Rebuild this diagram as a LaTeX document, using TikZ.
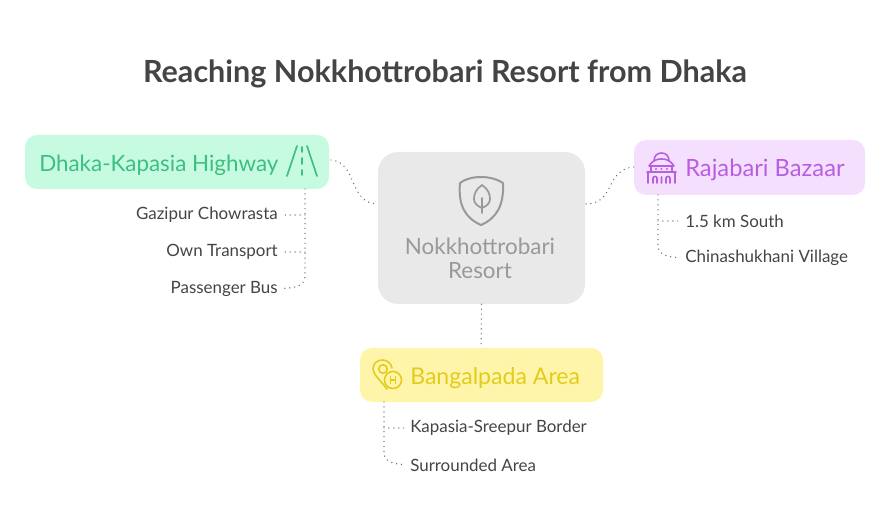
\documentclass[tikz,border=0pt]{standalone}
\usepackage{fontspec}
\setmainfont{Lato}
\definecolor{hwyfill}{HTML}{C6FBE2}
\definecolor{hwytext}{HTML}{3CBF80}
\definecolor{bazfill}{HTML}{F4E0FE}
\definecolor{baztext}{HTML}{B95EE0}
\definecolor{banfill}{HTML}{FEF5AA}
\definecolor{bantext}{HTML}{E3CC1C}
\definecolor{resfill}{HTML}{E9E9E9}
\definecolor{restext}{HTML}{999999}
\definecolor{inktext}{HTML}{444444}
\tikzset{
  topic/.style={draw=none, rectangle, rounded corners=9pt, inner sep=0pt},
  leaf/.style={inner sep=0pt, text=inktext, font=\fontsize{12.7}{15}\selectfont},
  dots/.style={draw=gray!85!black, line width=1.1pt, line cap=round, dash pattern=on 0pt off 3.7pt},
  glyph/.style={line width=1.2pt, line cap=round, line join=round}
}
\begin{document}
\begin{tikzpicture}[x=0.75pt, y=-0.75pt]
\useasboundingbox (0,0) rectangle (890,524);
\node[inner sep=0pt, text=inktext, font=\fontsize{22.9}{26}\bfseries\selectfont] (title) at (445,74) {Reaching Nokkhottrobari Resort from Dhaka};
% main boxes
\node[topic, fill=resfill, rounded corners=15pt, minimum width=155.25pt, minimum height=114pt] (resort) at (481.5,228) {};
\node[inner sep=0pt, align=center, text=restext, font=\fontsize{16.8}{18}\selectfont] (resortname) at (480,258) {Nokkhottrobari\\Resort};
\node[topic, fill=hwyfill, minimum width=228pt, minimum height=40.5pt] (hwy) at (177,162) {};
\node[inner sep=0pt, anchor=west, text=hwytext, font=\fontsize{16.8}{18}\selectfont] (hwyname) at (39,165) {Dhaka-Kapasia Highway};
\node[topic, fill=bazfill, minimum width=173.25pt, minimum height=41.25pt] (baz) at (749.5,167.5) {};
\node[inner sep=0pt, anchor=west, text=baztext, font=\fontsize{17.8}{18}\selectfont] (bazname) at (685,170) {Rajabari Bazaar};
\node[topic, fill=banfill, minimum width=182.25pt, minimum height=40.5pt] (ban) at (481.5,375) {};
\node[inner sep=0pt, anchor=west, text=bantext, font=\fontsize{17.3}{18}\selectfont] (banname) at (410,378) {Bangalpada Area};
% leaves
\node[leaf, anchor=east] (gaz) at (278,215) {Gazipur Chowrasta};
\node[leaf, anchor=east] (own) at (278,252) {Own Transport};
\node[leaf, anchor=east] (bus) at (278,288.5) {Passenger Bus};
\node[leaf, anchor=west] (south) at (685,221) {1.5 km South};
\node[leaf, anchor=west] (china) at (685,258) {Chinashukhani Village};
\node[leaf, anchor=west] (border) at (410,428) {Kapasia-Sreepur Border};
\node[leaf, anchor=west] (around) at (410,465) {Surrounded Area};
% connectors
\coordinate (hwyout) at (331,160);
\coordinate (hwydown) at (305,189);
\coordinate (bazdown) at (658,195);
\coordinate (bandown) at (384,402);
\coordinate (banin) at (481,345);
\draw[dots] (hwyout) .. controls (358,163) and (348,203) .. (resort.west |- 0,204);
\draw[dots] (baz.west |- 0,167) .. controls (604,170) and (616,204) .. (resort.east |- 0,204);
\draw[dots] (resort.south) -- (banin);
\draw[dots, shorten >=4pt] (hwydown) -- (305,276) .. controls (305,284) and (299,288) .. (bus.east);
\draw[dots, shorten >=4pt] (hwydown |- gaz.east) -- (gaz.east);
\draw[dots, shorten >=4pt] (hwydown |- own.east) -- (own.east);
\draw[dots, shorten >=4pt] (bazdown) -- (658,245) .. controls (658,253) and (664,257) .. (china.west);
\draw[dots, shorten >=4pt] (bazdown |- south.west) -- (south.west);
\draw[dots, shorten >=4pt] (bandown) -- (384,452) .. controls (384,460) and (390,464) .. (around.west);
\draw[dots, shorten >=4pt] (bandown |- border.west) -- (border.west);
% road icon
\draw[glyph, hwytext] (287,176) -- (297,146) (307,146) -- (317,176);
\draw[glyph, hwytext] (302,147) -- (302,152) (302,158) -- (302,164) (302,170) -- (302,175);
% shield icon
\draw[glyph, restext, line width=1.5pt] (481,177) .. controls (489,177) and (497,179) .. (503,183) .. controls (504,205) and (497,218) .. (481,225) .. controls (465,218) and (458,205) .. (460,183) .. controls (465,179) and (473,177) .. (481,177) -- cycle;
\draw[glyph, restext, line width=1.3pt] (482,185) .. controls (476,189) and (474,194) .. (474,199) .. controls (474,203) and (477,206) .. (482,208) .. controls (487,206) and (490,203) .. (490,199) .. controls (490,194) and (488,189) .. (482,185) -- cycle (482,198) -- (482,213);
% palace icon
\draw[glyph, baztext] (647,172) -- (676,172) (648,172) -- (648,183) (675,172) -- (675,183) (651,172) -- (651,166) (672,172) -- (672,166);
\draw[glyph, baztext] (649,166) .. controls (653,160) and (657,159) .. (661.5,159) .. controls (666,159) and (670,160) .. (674,166) -- cycle;
\draw[glyph, baztext] (654,161) .. controls (654,156) and (657,153) .. (661.5,153) .. controls (666,153) and (669,156) .. (669,161);
\draw[glyph, baztext] (653,183) -- (653,178) .. controls (653,176) and (657,176) .. (657,178) -- (657,183) (661.5,183) -- (661.5,177) (666,183) -- (666,178) .. controls (666,176) and (670,176) .. (670,178) -- (670,183);
\fill[baztext] (656,169) circle (0.9pt) (661.5,169) circle (0.9pt) (667,169) circle (0.9pt);
% pin icon
\draw[glyph, bantext] (387,389) .. controls (380,380) and (373,374) .. (373,369) .. controls (373,363) and (378,360) .. (382,360) .. controls (387,360) and (391,363) .. (392,368);
\draw[glyph, bantext] (383,369) circle (3.2pt);
\draw[glyph, bantext] (393,380) circle (6.4pt);
\draw[glyph, bantext, line width=1pt] (390.5,376.5) -- (390.5,383.5) (395.5,376.5) -- (395.5,383.5) (390.5,380) -- (395.5,380);
\end{tikzpicture}
\end{document}
